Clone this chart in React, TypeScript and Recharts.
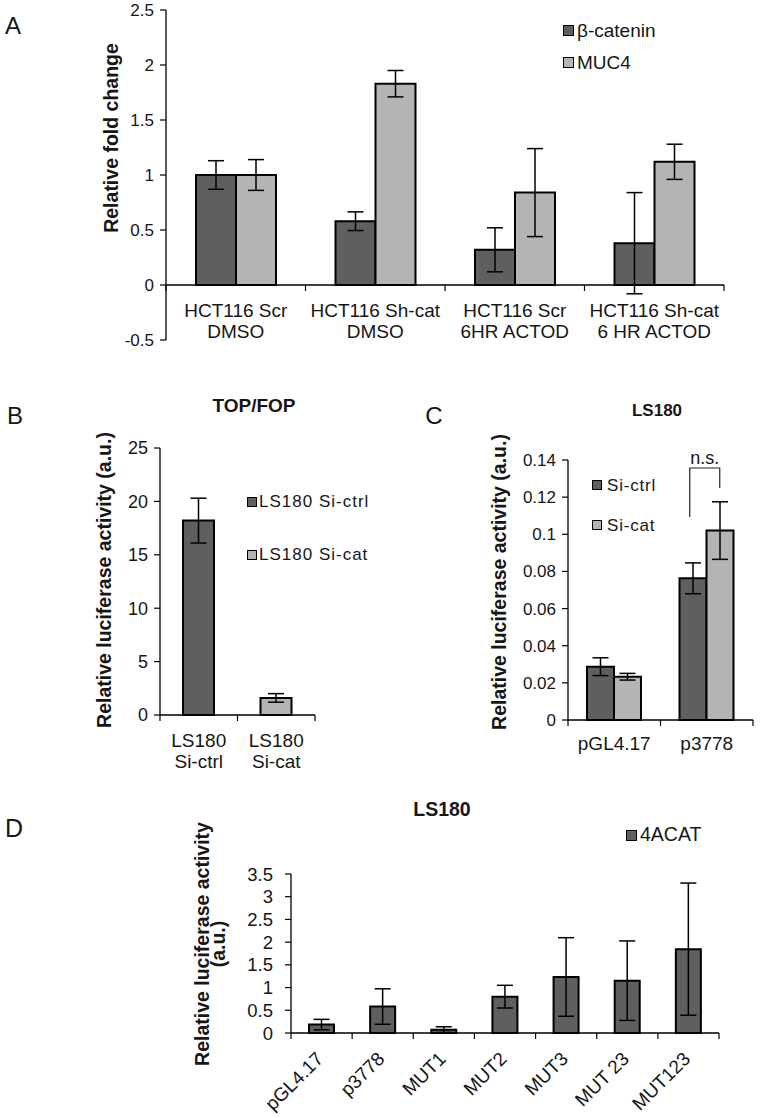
import React from 'react';
import { BarChart, Bar, XAxis, YAxis, ErrorBar, ReferenceLine, Legend, Cell } from 'recharts';

const FONT = '"Liberation Sans", Arial, Helvetica, sans-serif';
const INK = '#161616';
const DARK = '#5f5f5f';
const LIGHT = '#b4b4b4';

// ---------- Panel A ----------
const aCategories = ['HCT116 Scr\nDMSO', 'HCT116 Sh-cat\nDMSO', 'HCT116 Scr\n6HR ACTOD', 'HCT116 Sh-cat\n6 HR ACTOD'];
const aSeriesNames = ['β-catenin', 'MUC4'];
const aBetaCatenin = [1.0, 0.58, 0.32, 0.38];
const aBetaCateninErr = [0.13, 0.085, 0.2, 0.46];
const aMuc4 = [1.0, 1.83, 0.84, 1.12];
const aMuc4Err = [0.14, 0.12, 0.4, 0.16];
const aTicks = [-0.5, 0, 0.5, 1, 1.5, 2, 2.5];

// ---------- Panel B ----------
const bCategories = ['LS180\nSi-ctrl', 'LS180\nSi-cat'];
const bSeriesNames = ['LS180 Si-ctrl', 'LS180 Si-cat'];
const bValues = [18.2, 1.6];
const bErr = [2.1, 0.4];
const bTicks = [0, 5, 10, 15, 20, 25];

// ---------- Panel C ----------
const cCategories = ['pGL4.17', 'p3778'];
const cSeriesNames = ['Si-ctrl', 'Si-cat'];
const cSiCtrl = [0.0287, 0.0763];
const cSiCtrlErr = [0.0048, 0.0083];
const cSiCat = [0.0233, 0.102];
const cSiCatErr = [0.0018, 0.0155];
const cTicks = [0, 0.02, 0.04, 0.06, 0.08, 0.1, 0.12, 0.14];
const cBracketValues = [0.1357, 0.1093, 0.1249]; // top, left leg end, right leg end

// ---------- Panel D ----------
const dCategories = ['pGL4.17', 'p3778', 'MUT1', 'MUT2', 'MUT3', 'MUT 23', 'MUT123'];
const dSeriesNames = ['4ACAT'];
const d4acat = [0.185, 0.583, 0.074, 0.8, 1.233, 1.152, 1.846];
const d4acatErr = [0.115, 0.39, 0.063, 0.25, 0.865, 0.875, 1.455];
const dTicks = [0, 0.5, 1, 1.5, 2, 2.5, 3, 3.5];

const aData = aCategories.map((name, i) => ({
  name,
  beta: aBetaCatenin[i],
  betaErr: aBetaCateninErr[i],
  muc4: aMuc4[i],
  muc4Err: aMuc4Err[i],
}));
const bData = bCategories.map((name, i) => ({ name, value: bValues[i], err: bErr[i] }));
const cData = cCategories.map((name, i) => ({
  name,
  ctrl: cSiCtrl[i],
  ctrlErr: cSiCtrlErr[i],
  cat: cSiCat[i],
  catErr: cSiCatErr[i],
}));
const dData = dCategories.map((name, i) => ({ name, value: d4acat[i], err: d4acatErr[i] }));

// ---------- helpers ----------
function makeCategoryTick(o: { band: number; count: number; axisOffset: number; fontSize: number; firstLine: number; lineGap: number }) {
  return (props: any) => {
    const { x, y, payload, index } = props;
    const axisY = y - o.axisOffset;
    const half = o.band / 2;
    const lines = String(payload.value).split('\n');
    return (
      <g>
        <line x1={x - half} y1={axisY} x2={x - half} y2={axisY + 6} stroke="#000" strokeWidth={1.2} />
        {index === o.count - 1 && (
          <line x1={x + half} y1={axisY} x2={x + half} y2={axisY + 6} stroke="#000" strokeWidth={1.2} />
        )}
        <text textAnchor="middle" fontSize={o.fontSize} fill={INK} fontFamily={FONT}>
          {lines.map((l, i) => (
            <tspan key={i} x={x} y={axisY + o.firstLine + i * o.lineGap}>
              {l}
            </tspan>
          ))}
        </text>
      </g>
    );
  };
}

function makeRotatedTick(o: { band: number; count: number; fontSize: number; dx: number; dy: number }) {
  return (props: any) => {
    const { x, y, payload, index } = props;
    const half = o.band / 2;
    return (
      <g>
        <line x1={x - half} y1={y} x2={x - half} y2={y + 6} stroke="#000" strokeWidth={1.2} />
        {index === o.count - 1 && <line x1={x + half} y1={y} x2={x + half} y2={y + 6} stroke="#000" strokeWidth={1.2} />}
        <text
          transform={`translate(${x + o.dx},${y + o.dy}) rotate(-45)`}
          textAnchor="end"
          fontSize={o.fontSize}
          fill={INK}
          fontFamily={FONT}
        >
          {payload.value}
        </text>
      </g>
    );
  };
}

const AxisTitle = (props: any) => {
  const { cx, cy, lines, fontSize, lineGap } = props;
  return (
    <text
      transform={`translate(${cx},${cy}) rotate(-90)`}
      textAnchor="middle"
      fontWeight="bold"
      fontSize={fontSize}
      fill={INK}
      fontFamily={FONT}
    >
      {lines.map((l: string, i: number) => (
        <tspan key={i} x={0} y={i * (lineGap || 0)}>
          {l}
        </tspan>
      ))}
    </text>
  );
};

function legendContent(
  items: { name: string; color: string }[],
  o: { square: number; rowGap: number; fontSize: number; textGap: number; letterSpacing?: number }
) {
  return () => (
    <div style={{ fontFamily: FONT }}>
      {items.map((it, i) => (
        <div key={i} style={{ display: 'flex', alignItems: 'center', height: o.rowGap }}>
          <span
            style={{
              display: 'inline-block',
              width: o.square,
              height: o.square,
              background: it.color,
              border: '1.5px solid #000',
              boxSizing: 'border-box',
              marginRight: o.textGap,
              flex: 'none',
            }}
          />
          <span
            style={{
              fontSize: o.fontSize,
              lineHeight: 1,
              color: INK,
              letterSpacing: o.letterSpacing || 0,
              whiteSpace: 'nowrap',
            }}
          >
            {it.name}
          </span>
        </div>
      ))}
    </div>
  );
}

const yTick = (fs: number) => ({ fontSize: fs, fill: INK, fontFamily: FONT });

// ---------- layout constants ----------
const A_W = 763, A_H = 380;
const A_M = { top: 10, right: 39, bottom: 10, left: 0 };
const A_YW = 166, A_XH = 30;
const A_PLOT_W = A_W - A_M.left - A_M.right - A_YW;
const A_PLOT_H = A_H - A_M.top - A_M.bottom - A_XH;
const A_ZERO_OFFSET = (A_PLOT_H * (0 - aTicks[0])) / (aTicks[aTicks.length - 1] - aTicks[0]);

const B_W = 380, B_H = 400;
const B_M = { top: 68, right: 65, bottom: 0, left: 0 };
const B_YW = 160, B_XH = 65;
const B_PLOT_W = B_W - B_M.left - B_M.right - B_YW;

const C_W = 383, C_H = 400;
const C_M = { top: 80, right: 10, bottom: 0, left: 0 };
const C_YW = 188, C_XH = 60;
const C_PLOT_W = C_W - C_M.left - C_M.right - C_YW;

const D_W = 763, D_H = 338;
const D_M = { top: 94, right: 44, bottom: 0, left: 0 };
const D_YW = 291, D_XH = 85;
const D_PLOT_W = D_W - D_M.left - D_M.right - D_YW;

const axisLineStyle = { stroke: '#000', strokeWidth: 1.3 };
const tickLineStyle = { stroke: '#000', strokeWidth: 1.2 };

const BracketShape = (props: any) => {
  const { x1, y1, y2 } = props;
  if (x1 == null || y1 == null || y2 == null) return null;
  const [top, leftEnd, rightEnd] = cBracketValues;
  const yRight = y1 + ((y2 - y1) * (top - rightEnd)) / (top - leftEnd);
  const xl = x1 - 17;
  const xr = x1 + 13;
  return (
    <g>
      <path d={`M${xl},${y2} L${xl},${y1} L${xr},${y1} L${xr},${yRight}`} fill="none" stroke="#222" strokeWidth={1.2} />
      <text x={(xl + xr) / 2} y={y1 - 4} textAnchor="middle" fontSize={18} fill={INK} fontFamily={FONT}>
        n.s.
      </text>
    </g>
  );
};

export default function App() {
  return (
    <div style={{ position: 'absolute', left: 0, top: 0, width: 763, height: 1118, background: '#fff', fontFamily: FONT }}>
      <svg width={763} height={1118} style={{ position: 'absolute', left: 0, top: 0 }}>
        <g fontFamily={FONT} fill={INK}>
          <text x={13} y={34} fontSize={24} textAnchor="middle">A</text>
          <text x={15} y={424} fontSize={24} textAnchor="middle">B</text>
          <text x={434} y={424} fontSize={24} textAnchor="middle">C</text>
          <text x={14} y={837} fontSize={25} textAnchor="middle">D</text>
          <text x={254} y={412} fontSize={19} fontWeight="bold" textAnchor="middle">TOP/FOP</text>
          <text x={657} y={416} fontSize={17} fontWeight="bold" textAnchor="middle">LS180</text>
          <text x={442} y={816} fontSize={19.5} fontWeight="bold" textAnchor="middle">LS180</text>
        </g>
      </svg>

      {/* Panel A */}
      <div style={{ position: 'absolute', left: 0, top: 0 }}>
        <BarChart width={A_W} height={A_H} data={aData} margin={A_M} barGap={0} style={{ fontFamily: FONT }}>
          <XAxis
            dataKey="name"
            height={A_XH}
            axisLine={false}
            tickLine={false}
            tickSize={0}
            tickMargin={0}
            interval={0}
            tick={makeCategoryTick({ band: A_PLOT_W / aCategories.length, count: aCategories.length, axisOffset: A_ZERO_OFFSET, fontSize: 19, firstLine: 32, lineGap: 21 })}
          />
          <YAxis
            type="number"
            width={A_YW}
            domain={[aTicks[0], aTicks[aTicks.length - 1]]}
            ticks={aTicks}
            interval={0}
            tick={yTick(17)}
            tickSize={6}
            tickMargin={6}
            axisLine={axisLineStyle}
            tickLine={tickLineStyle}
            label={<AxisTitle cx={118} cy={138} lines={['Relative fold change']} fontSize={19.5} />}
          />
          <ReferenceLine y={0} stroke="#000" strokeWidth={1.3} />
          <Legend
            layout="vertical"
            align="center"
            verticalAlign="middle"
            wrapperStyle={{ left: 563, top: 14, width: 160, right: 'auto', bottom: 'auto' }}
            content={legendContent(
              [
                { name: aSeriesNames[0], color: DARK },
                { name: aSeriesNames[1], color: LIGHT },
              ],
              { square: 11, rowGap: 32, fontSize: 19, textGap: 3 }
            )}
          />
          <Bar dataKey="beta" name={aSeriesNames[0]} fill={DARK} stroke="#000" strokeWidth={2} barSize={40} isAnimationActive={false}>
            <ErrorBar dataKey="betaErr" width={8} stroke="#000" strokeWidth={1.5} direction="y" />
          </Bar>
          <Bar dataKey="muc4" name={aSeriesNames[1]} fill={LIGHT} stroke="#000" strokeWidth={2} barSize={40} isAnimationActive={false}>
            <ErrorBar dataKey="muc4Err" width={8} stroke="#000" strokeWidth={1.5} direction="y" />
          </Bar>
        </BarChart>
      </div>

      {/* Panel B */}
      <div style={{ position: 'absolute', left: 0, top: 380 }}>
        <BarChart width={B_W} height={B_H} data={bData} margin={B_M} barGap={0} style={{ fontFamily: FONT }}>
          <XAxis
            dataKey="name"
            height={B_XH}
            axisLine={axisLineStyle}
            tickLine={false}
            tickSize={0}
            tickMargin={0}
            interval={0}
            tick={makeCategoryTick({ band: B_PLOT_W / bCategories.length, count: bCategories.length, axisOffset: 0, fontSize: 19, firstLine: 32, lineGap: 21 })}
          />
          <YAxis
            type="number"
            width={B_YW}
            domain={[bTicks[0], bTicks[bTicks.length - 1]]}
            ticks={bTicks}
            interval={0}
            tick={yTick(18)}
            tickSize={6}
            tickMargin={6}
            axisLine={axisLineStyle}
            tickLine={tickLineStyle}
            label={<AxisTitle cx={111} cy={200} lines={['Relative luciferase activity (a.u.)']} fontSize={19.5} />}
          />
          <Legend
            layout="vertical"
            align="center"
            verticalAlign="middle"
            wrapperStyle={{ left: 247, top: 95, width: 140, right: 'auto', bottom: 'auto' }}
            content={legendContent(
              [
                { name: bSeriesNames[0], color: DARK },
                { name: bSeriesNames[1], color: LIGHT },
              ],
              { square: 10, rowGap: 53, fontSize: 17, textGap: 2, letterSpacing: 1 }
            )}
          />
          <Bar dataKey="value" fill={DARK} stroke="#000" strokeWidth={2} barSize={31} isAnimationActive={false}>
            {bData.map((_, i) => (
              <Cell key={i} fill={i === 0 ? DARK : LIGHT} />
            ))}
            <ErrorBar dataKey="err" width={8} stroke="#000" strokeWidth={1.5} direction="y" />
          </Bar>
        </BarChart>
      </div>

      {/* Panel C */}
      <div style={{ position: 'absolute', left: 380, top: 380 }}>
        <BarChart width={C_W} height={C_H} data={cData} margin={C_M} barGap={0} style={{ fontFamily: FONT }}>
          <XAxis
            dataKey="name"
            height={C_XH}
            axisLine={axisLineStyle}
            tickLine={false}
            tickSize={0}
            tickMargin={0}
            interval={0}
            tick={makeCategoryTick({ band: C_PLOT_W / cCategories.length, count: cCategories.length, axisOffset: 0, fontSize: 19, firstLine: 30, lineGap: 21 })}
          />
          <YAxis
            type="number"
            width={C_YW}
            domain={[cTicks[0], cTicks[cTicks.length - 1]]}
            ticks={cTicks}
            interval={0}
            tick={yTick(17)}
            tickSize={6}
            tickMargin={6}
            axisLine={axisLineStyle}
            tickLine={tickLineStyle}
            label={<AxisTitle cx={126} cy={202} lines={['Relative luciferase activity (a.u.)']} fontSize={19.5} />}
          />
          <Legend
            layout="vertical"
            align="center"
            verticalAlign="middle"
            wrapperStyle={{ left: 212, top: 85, width: 120, right: 'auto', bottom: 'auto' }}
            content={legendContent(
              [
                { name: cSeriesNames[0], color: DARK },
                { name: cSeriesNames[1], color: LIGHT },
              ],
              { square: 10, rowGap: 40, fontSize: 17, textGap: 5, letterSpacing: 0.8 }
            )}
          />
          <ReferenceLine
            segment={[
              { x: cCategories[1], y: cBracketValues[0] },
              { x: cCategories[1], y: cBracketValues[1] },
            ]}
            shape={BracketShape}
          />
          <Bar dataKey="ctrl" name={cSeriesNames[0]} fill={DARK} stroke="#000" strokeWidth={2} barSize={27} isAnimationActive={false}>
            <ErrorBar dataKey="ctrlErr" width={8} stroke="#000" strokeWidth={1.5} direction="y" />
          </Bar>
          <Bar dataKey="cat" name={cSeriesNames[1]} fill={LIGHT} stroke="#000" strokeWidth={2} barSize={27} isAnimationActive={false}>
            <ErrorBar dataKey="catErr" width={8} stroke="#000" strokeWidth={1.5} direction="y" />
          </Bar>
        </BarChart>
      </div>

      {/* Panel D */}
      <div style={{ position: 'absolute', left: 0, top: 780 }}>
        <BarChart width={D_W} height={D_H} data={dData} margin={D_M} barGap={0} style={{ fontFamily: FONT }}>
          <XAxis
            dataKey="name"
            height={D_XH}
            axisLine={axisLineStyle}
            tickLine={false}
            tickSize={0}
            tickMargin={0}
            interval={0}
            tick={makeRotatedTick({ band: D_PLOT_W / dCategories.length, count: dCategories.length, fontSize: 19, dx: 3, dy: 27 })}
          />
          <YAxis
            type="number"
            width={D_YW}
            domain={[dTicks[0], dTicks[dTicks.length - 1]]}
            ticks={dTicks}
            interval={0}
            tick={yTick(18.5)}
            tickSize={6}
            tickMargin={12}
            axisLine={axisLineStyle}
            tickLine={tickLineStyle}
            label={<AxisTitle cx={209} cy={164} lines={['Relative luciferase activity', '(a.u.)']} fontSize={19.5} lineGap={16} />}
          />
          <Legend
            layout="vertical"
            align="center"
            verticalAlign="middle"
            wrapperStyle={{ left: 626, top: 40, width: 120, right: 'auto', bottom: 'auto' }}
            content={legendContent([{ name: dSeriesNames[0], color: DARK }], { square: 11, rowGap: 30, fontSize: 19.5, textGap: 3 })}
          />
          <Bar dataKey="value" name={dSeriesNames[0]} fill={DARK} stroke="#000" strokeWidth={2} barSize={25} isAnimationActive={false}>
            <ErrorBar dataKey="err" width={8} stroke="#000" strokeWidth={1.5} direction="y" />
          </Bar>
        </BarChart>
      </div>
    </div>
  );
}
